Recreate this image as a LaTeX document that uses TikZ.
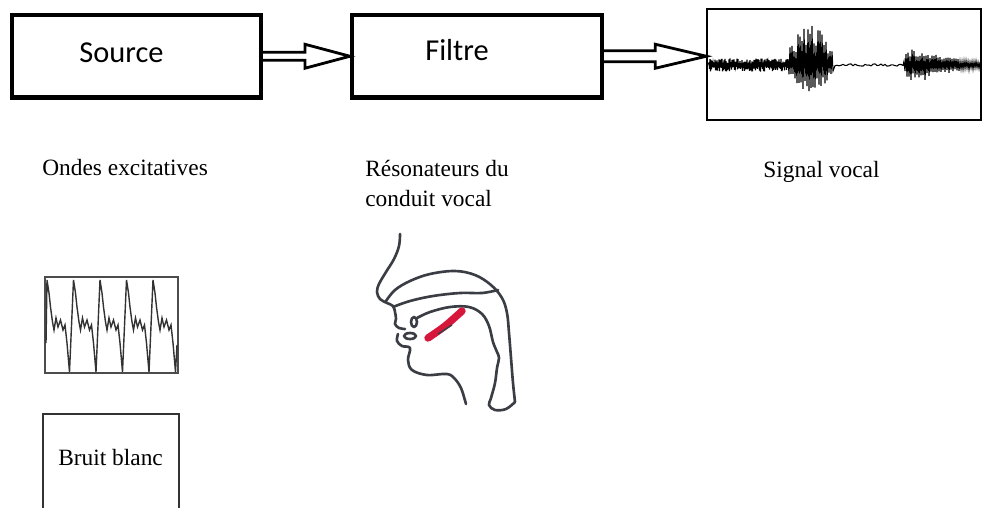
\documentclass[tikz,border=0pt]{standalone}
\usepackage{fontspec}
\setmainfont{Liberation Serif}
\newfontfamily\calib{Carlito}
\usepackage{tikz}
\usetikzlibrary{calc,positioning}
\definecolor{pencil}{RGB}{58,62,68}
\definecolor{tongue}{RGB}{214,22,58}
\def\pipe#1#2#3#4{\draw[pipe] ($(#1)+(0,-#4)$) -- ($(#2)+(-#3,-#4)$) -- ($(#2)+(-#3,-12)$) -- (#2) -- ($(#2)+(-#3,12)$) -- ($(#2)+(-#3,#4)$) -- ($(#1)+(0,#4)$)}
\tikzstyle{block}=[draw,line width=2.4pt,minimum height=1.65cm]
\tikzstyle{blocktext}=[font=\calib\fontsize{17.3}{20}\selectfont,anchor=base,inner sep=0pt]
\tikzstyle{caption}=[font=\fontsize{13.3}{17}\selectfont,anchor=base west,align=left,inner sep=0pt]
\tikzstyle{pipe}=[line width=1.6pt,line join=miter]
\tikzstyle{frame}=[draw,line width=0.8pt]
\tikzstyle{wave}=[line width=0.6pt]
\tikzstyle{tract}=[pencil,line width=1.5pt,line cap=round,line join=round]

\begin{document}
\begin{tikzpicture}[x=0.02cm,y=-0.02cm]
    \useasboundingbox (0,0) rectangle (982,507);
    \pgfmathsetseed{7}
    \node[block,minimum width=4.98cm] (src) at (136.5,56.25) {};
    \node[block,minimum width=5cm] (flt) at (477,56.25) {};
    \node[frame,minimum width=5.48cm,minimum height=2.22cm] (sig) at (844,64.5) {};
    \node[blocktext] at (121.5,62) {Source};
    \node[blocktext] at (457,60) {Filtre};
    \coordinate (tip) at (sig.west |- flt.east);
    \pipe{src.east}{flt.west}{45}{4};
    \pipe{flt.east}{tip}{51}{5.5};
    \draw[wave] (707,65) foreach \x in {709,709.5,...,788} { -- (\x,{65+(2*mod(2*\x,2)-1)*(1.5+5*rnd)}) }
      foreach \x in {789,...,833} { -- (\x,{65+ifthenelse(mod(\x,2)==1,27,-41)*(0.25+0.75*sin(180*(\x-786)/50))*(0.45+0.55*rnd)}) }
      foreach \x in {835,837,...,903} { -- (\x,{65+1.2*rand}) }
      foreach \x in {904,905,...,980} { -- (\x,{65+(2*mod(\x,2)-1)*(1.5+16*min(1,(\x-902)/6)*exp(-max(0,\x-922)/30)*(0.4+0.6*rnd))}) };
    \node[caption] (exc) at (42,175) {Ondes excitatives};
    \node[caption] (res) at (365,206) {Résonateurs du\\conduit vocal};
    \node[caption] (voc) at (763,177) {Signal vocal};
    \node[draw=black!70,line width=0.6pt,minimum width=2.66cm,minimum height=1.92cm] (osc) at (111.5,325) {};
    \draw[wave,line width=0.8pt,black!80] (46,343) foreach \k in {0,...,4} {
      -- ({47+26.5*\k},280) -- ({49+26.5*\k},293) -- ({50.5+26.5*\k},307) -- ({52.5+26.5*\k},322)
      -- ({54+26.5*\k},330) -- ({56+26.5*\k},318) -- ({58+26.5*\k},327) -- ({60.5+26.5*\k},320)
      -- ({63+26.5*\k},330) -- ({65+26.5*\k},325) -- ({67+26.5*\k},343) -- ({69.5+26.5*\k},372) } -- (177,345);
    \node[draw=black!80,line width=0.7pt,minimum width=2.72cm,minimum height=2.32cm] (bruit) at (111,472) {};
    \node[caption] at (58,465) {Bruit blanc};
    \draw[tract] plot[smooth,tension=0.6] coordinates {(400,234) (399,246) (394,259) (386,272) (379,284) (377,292) (380,299) (387,303) (393,306) (395,312) (396,319) (395,324) (399,328) (405,329)};
    \draw[tract] plot[smooth,tension=0.6] coordinates {(386,301) (395,290) (410,281) (430,274) (455,271) (475,275) (491,285) (502,298) (507,313) (509,333) (511,358) (513,383) (515,402)};
    \draw[tract] plot[smooth,tension=0.6] coordinates {(393,307) (410,301) (433,296) (460,293) (482,293) (498,290)};
    \draw[tract] plot[smooth,tension=0.6] coordinates {(417,318) (430,312) (450,307) (469,307) (482,314) (489,326) (493,342) (497,352) (499,358) (497,368) (495,383) (491,398) (489,405) (495,410) (506,409) (515,402)};
    \draw[tract] plot[smooth,tension=0.6] coordinates {(398,334) (397,341) (402,346) (410,348) (408,360) (412,370) (427,375) (447,374) (455,379) (461,388) (464,397) (466,404)};
    \draw[tract] (414,322) ellipse (3 and 5);
    \draw[tract] (410,336) ellipse (6 and 3);
    \draw[tongue,line width=4.2pt,line cap=round] plot[smooth] coordinates {(428,338) (445,326) (462,311)};
    \draw[pencil,line width=0.8pt] (438,334) -- (452,325);
\end{tikzpicture}
\end{document}
